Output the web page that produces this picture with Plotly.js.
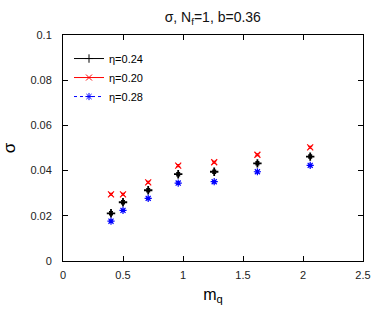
<!DOCTYPE html>
<html><head><meta charset="utf-8">
<script src="https://cdn.plot.ly/plotly-3.0.1.min.js"></script>
<style>html,body{margin:0;padding:0;background:#fff}</style>
</head><body><div id="chart" style="width:382px;height:310px"></div>
<script>
const mq = [0.40, 0.50, 0.71, 0.96, 1.26, 1.62, 2.06];
const sigmaEta024 = [0.0211, 0.0260, 0.0313, 0.0384, 0.0395, 0.0432, 0.0462];
const errEta024   = [0.0006, 0.0006, 0.0006, 0.0006, 0.0006, 0.0006, 0.0006];
const sigmaEta020 = [0.0295, 0.0295, 0.0348, 0.0422, 0.0437, 0.0470, 0.0503];
const errEta020   = [0.0004, 0.0004, 0.0004, 0.0004, 0.0004, 0.0004, 0.0004];
const sigmaEta028 = [0.0176, 0.0224, 0.0277, 0.0345, 0.0351, 0.0395, 0.0423];
const errEta028   = [0.0005, 0.0005, 0.0005, 0.0005, 0.0005, 0.0005, 0.0005];
const seriesNames = ['η=0.24', 'η=0.20', 'η=0.28'];
const xTicks = [0, 0.5, 1, 1.5, 2, 2.5];
const yTicks = [0, 0.02, 0.04, 0.06, 0.08, 0.1];

const styles = [
  {color:'#000000', symbol:'cross-thin-open', size:6, lw:1.8, dash:'solid'},
  {color:'#ff0000', symbol:'x-thin-open', size:6, lw:1.2, dash:'solid'},
  {color:'#0000ff', symbol:'asterisk-open', size:6, lw:1.2, dash:'dot'}
];
const ys = [sigmaEta024, sigmaEta020, sigmaEta028];
const es = [errEta024, errEta020, errEta028];

const traces = [];
ys.forEach((y, i) => {
  const s = styles[i];
  traces.push({
    x: mq, y: y, type:'scatter', mode:'markers', showlegend:false,
    legendgroup:'g'+i, name: seriesNames[i],
    marker:{symbol:s.symbol, size:s.size, color:s.color, line:{color:s.color, width:s.lw}},
    error_y:{type:'data', array:es[i], visible:true, color:s.color, thickness:s.lw, width:2}
  });
});
ys.forEach((y, i) => {
  const s = styles[i];
  traces.push({
    x:[null], y:[null], type:'scatter', mode:'lines+markers', showlegend:true,
    legendgroup:'g'+i, name: seriesNames[i],
    line:{color:s.color, width:1, dash:s.dash},
    marker:{symbol:s.symbol, size:s.size, color:s.color, line:{color:s.color, width:1}}
  });
});

const axisCommon = {
  showline:true, linecolor:'#000', linewidth:1, mirror:'ticks',
  ticks:'inside', ticklen:5, tickcolor:'#000', tickwidth:1,
  showgrid:false, zeroline:false,
  tickfont:{family:'Liberation Sans, Arial, sans-serif', size:11, color:'#222'}
};

const layout = {
  width:382, height:310,
  margin:{l:63, r:19, t:35, b:49},
  paper_bgcolor:'#fff', plot_bgcolor:'#fff',
  font:{family:'Liberation Sans, Arial, sans-serif', color:'#000'},
  title:{text:'σ, N<sub>f</sub>=1, b=0.36', x:0.557, xanchor:'center', y:0.945, yanchor:'middle',
         font:{size:14, color:'#111'}},
  xaxis:Object.assign({}, axisCommon, {range:[0,2.5], tickvals:xTicks, ticktext:xTicks.map(String),
         ticklabelstandoff:4,
         title:{text:'m<sub>q</sub>', font:{size:16}, standoff:8}}),
  yaxis:Object.assign({}, axisCommon, {range:[0,0.1], tickvals:yTicks, ticktext:yTicks.map(String),
         ticklabelstandoff:8,
         title:{text:'σ', font:{size:17}, standoff:12}}),
  legend:{x:0.02, y:0.96, xanchor:'left', yanchor:'top', bgcolor:'rgba(0,0,0,0)',
          font:{size:11, color:'#000'}, tracegroupgap:0, itemwidth:30}
};

Plotly.newPlot('chart', traces, layout, {displayModeBar:false, staticPlot:true});
</script></body></html>
